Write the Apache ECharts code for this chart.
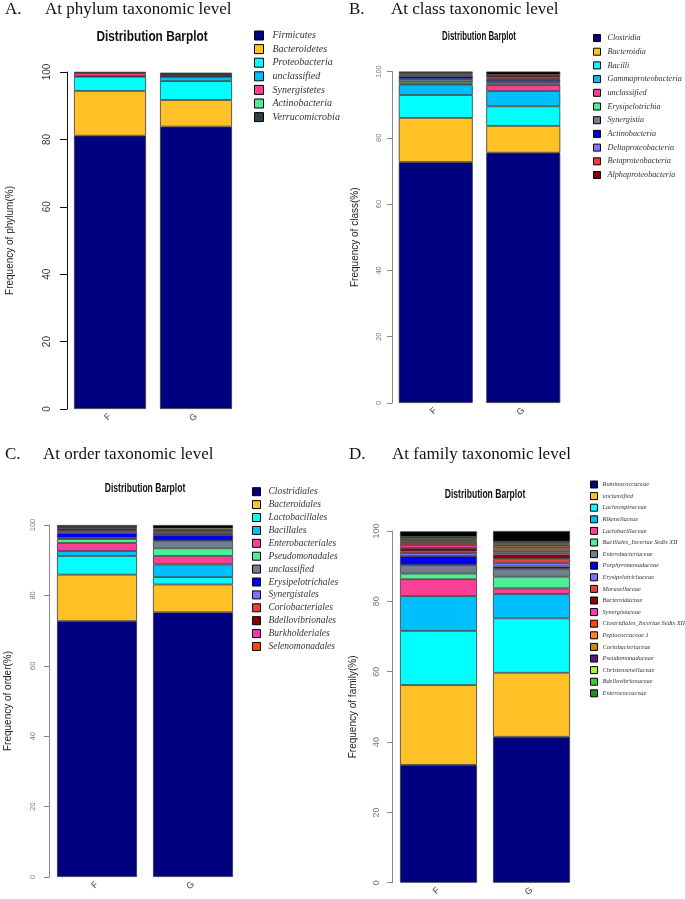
<!DOCTYPE html>
<html>
<head>
<meta charset="utf-8">
<script src="https://cdn.jsdelivr.net/npm/echarts@6/dist/echarts.min.js"></script>
<style>
  html, body { margin: 0; padding: 0; background: #fff; }
  #chart { width: 685px; height: 899px; }
</style>
</head>
<body>
<div id="chart"></div>
<script>
// samples on the x axis
const samples = ['F', 'G']
const yTicks = [0, 20, 40, 60, 80, 100]

// A. phylum level
const phylumNames = ['Firmicutes', 'Bacteroidetes', 'Proteobacteria', 'unclassified', 'Synergistetes', 'Actinobacteria', 'Verrucomicrobia']
const phylumF = [81.1, 13.3, 4.2, 0.2, 0.9, 0.1, 0.2]
const phylumG = [83.8, 7.9, 5.6, 1.3, 0.1, 0.1, 1.0]

// B. class level
const classNames = ['Clostridia', 'Bacteroidia', 'Bacilli', 'Gammaproteobacteria', 'unclassified', 'Erysipelotrichia', 'Synergistia', 'Actinobacteria', 'Deltaproteobacteria', 'Betaproteobacteria', 'Alphaproteobacteria', 'Others']
const classF = [72.7, 13.3, 6.9, 3.1, 0.3, 0.6, 0.8, 0.9, 0.5, 0.3, 0.2, 0.4]
const classG = [75.5, 8.1, 5.9, 4.6, 1.8, 0.5, 0.5, 0.6, 0.3, 0.4, 0.8, 1.0]

// C. order level
const orderNames = ['Clostridiales', 'Bacteroidales', 'Lactobacillales', 'Bacillales', 'Enterobacteriales', 'Pseudomonadales', 'unclassified', 'Erysipelotrichales', 'Synergistales', 'Coriobacteriales', 'Bdellovibrionales', 'Burkholderiales', 'Selenomonadales', 'Others']
const orderF = [72.7, 13.2, 5.3, 1.4, 2.3, 1.1, 0.3, 1.4, 0.6, 0.2, 0.5, 0.2, 0.2, 0.6]
const orderG = [75.2, 7.9, 2.1, 3.6, 2.4, 2.2, 2.1, 1.6, 0.3, 0.4, 0.5, 0.3, 0.4, 1.0]

// D. family level
const familyNames = ['Ruminococcaceae', 'unclassified', 'Lachnospiraceae', 'Rikenellaceae', 'Lactobacillaceae', 'Bacillales_Incertae Sedis XII', 'Enterobacteriaceae', 'Porphyromonadaceae', 'Erysipelotrichaceae', 'Moraxellaceae', 'Bacteroidaceae', 'Synergistaceae', 'Clostridiales_Incertae Sedis XII', 'Peptococcaceae 1', 'Coriobacteriaceae', 'Pseudomonadaceae', 'Christensenellaceae', 'Bdellovibrionaceae', 'Enterococcaceae', 'Others']
const familyF = [33.5, 22.7, 15.4, 9.9, 4.8, 1.6, 2.4, 2.6, 0.8, 0.5, 1.0, 0.8, 0.6, 0.4, 0.3, 0.2, 0.4, 0.2, 0.2, 1.6]
const familyG = [41.5, 18.2, 15.5, 6.9, 1.6, 3.3, 2.2, 0.7, 1.0, 1.2, 1.2, 0.6, 0.6, 0.7, 0.6, 0.3, 0.4, 0.3, 0.2, 3.0]

// shared palette (R style)
const palette = ['#000080', '#FFC125', '#00FFFF', '#00BFFF', '#FF3E96', '#4EEE94', '#708090', '#0000EE', '#8470FF', '#EE3B3B', '#8B0000', '#FF34B3', '#FF4500', '#FF7F24', '#CD8500', '#551A8B', '#B3EE3A', '#32CD32', '#228B22']
const phylumColors = ['#000080', '#FFC125', '#00FFFF', '#00BFFF', '#FF3E96', '#4EEE94', '#2F3F46']

const panels = [
  {
    key: 'A', letter: 'A.', heading: 'At phylum taxonomic level', hx: 5, lx: 45, hy: 10,
    names: phylumNames, f: phylumF, g: phylumG, colors: phylumColors,
    grid: { left: 67, top: 72, width: 172, height: 337 }, barWidth: 72,
    legend: { left: 254, top: 30.5, w: 9, h: 9, gap: 3.6, size: 10, pad: 4 },
    yName: 'Frequency of phylum(%)', nameGap: 52, axisColor: '#111', tick: 7, labelMargin: 15, labelSize: 10,
    db: { x: 152, y: 37, size: 15, sx: 0.79 }
  },
  {
    key: 'B', letter: 'B.', heading: 'At class taxonomic level', hx: 349, lx: 391, hy: 10,
    names: classNames, f: classF, g: classG, colors: palette,
    grid: { left: 392, top: 71.5, width: 175, height: 331.5 }, barWidth: 74,
    legend: { left: 593, top: 34, w: 7, h: 7, gap: 5.7, size: 8.2, pad: 2 },
    yName: 'Frequency of class(%)', nameGap: 32, axisColor: '#888', tick: 5, labelMargin: 9, labelSize: 7.5,
    db: { x: 479, y: 37, size: 12.5, sx: 0.63 }
  },
  {
    key: 'C', letter: 'C.', heading: 'At order taxonomic level', hx: 5, lx: 43, hy: 455,
    names: orderNames, f: orderF, g: orderG, colors: palette,
    grid: { left: 49, top: 525, width: 192, height: 352 }, barWidth: 80,
    legend: { left: 252, top: 486.7, w: 8, h: 8, gap: 2.9, size: 9.5, pad: 3 },
    yName: 'Frequency of order(%)', nameGap: 36, axisColor: '#888', tick: 5, labelMargin: 12, labelSize: 7.5,
    db: { x: 145, y: 488, size: 13, sx: 0.66 }
  },
  {
    key: 'D', letter: 'D.', heading: 'At family taxonomic level', hx: 349, lx: 392, hy: 455,
    names: familyNames, f: familyF, g: familyG, colors: palette,
    grid: { left: 392, top: 531, width: 186, height: 352 }, barWidth: 77,
    legend: { left: 590, top: 480.5, w: 7, h: 7, gap: 3.6, size: 6.4, pad: 0 },
    yName: 'Frequency of family(%)', nameGap: 34, axisColor: '#888', tick: 5, labelMargin: 11, labelSize: 9,
    db: { x: 485, y: 494, size: 13, sx: 0.66 }
  }
]

const serif = '"Liberation Serif", "Times New Roman", serif'
const sans = '"Liberation Sans", Arial, sans-serif'

let grids = [], xAxes = [], yAxes = [], legends = [], series = [], graphics = []

panels.forEach((p, i) => {
  grids.push(Object.assign({ containLabel: false }, p.grid))
  xAxes.push({
    type: 'category', gridIndex: i, data: samples,
    axisLine: { show: false }, axisTick: { show: false },
    axisLabel: { rotate: 45, margin: 6, fontSize: 9, color: '#444', fontFamily: sans }
  })
  yAxes.push({
    type: 'value', gridIndex: i, min: yTicks[0], max: yTicks[yTicks.length - 1], interval: 20,
    axisLine: { show: true, lineStyle: { color: p.axisColor, width: 1 } },
    axisTick: { show: true, length: p.tick, lineStyle: { color: p.axisColor } },
    axisLabel: { rotate: 90, margin: p.labelMargin, fontSize: p.labelSize, color: p.axisColor === '#111' ? '#333' : '#777', fontFamily: sans },
    splitLine: { show: false },
    name: p.yName, nameLocation: 'middle', nameGap: p.nameGap,
    nameTextStyle: { fontSize: 10, color: '#222', fontFamily: sans }
  })
  p.names.forEach((n, j) => {
    series.push({
      name: p.key + '|' + n,
      type: 'bar', stack: p.key, xAxisIndex: i, yAxisIndex: i,
      barWidth: p.barWidth,
      data: [p.f[j], p.g[j]],
      itemStyle: { color: n === 'Others' ? '#000000' : p.colors[j], borderColor: '#3a3a3a', borderWidth: 0.8 },
      emphasis: { disabled: true }
    })
  })
  const L = p.legend
  legends.push({
    orient: 'vertical', left: L.left, top: L.top, padding: 0,
    itemWidth: L.w, itemHeight: L.h, itemGap: L.gap,
    icon: 'rect', selectedMode: false,
    data: p.names.filter(n => n !== 'Others').map(n => p.key + '|' + n),
    formatter: name => name.split('|')[1],
    itemStyle: { borderColor: '#000', borderWidth: 1 },
    textStyle: { fontFamily: serif, fontStyle: 'italic', fontSize: L.size, color: '#333', padding: [0, 0, 0, L.pad] }
  })
  graphics.push(
    { type: 'text', x: p.hx, y: p.hy, style: { text: p.letter, font: '17px ' + serif, fill: '#111', verticalAlign: 'middle' } },
    { type: 'text', x: p.lx, y: p.hy, style: { text: p.heading, font: '17px ' + serif, fill: '#111', verticalAlign: 'middle' } },
    {
      type: 'text', x: p.db.x, y: p.db.y, scaleX: p.db.sx,
      style: { text: 'Distribution Barplot', font: 'bold ' + p.db.size + 'px ' + sans, fill: '#111', align: 'center', verticalAlign: 'middle' }
    }
  )
})

const chart = echarts.init(document.getElementById('chart'))
chart.setOption({
  animation: false,
  backgroundColor: '#fff',
  grid: grids,
  xAxis: xAxes,
  yAxis: yAxes,
  legend: legends,
  series: series,
  graphic: graphics,
  tooltip: { show: false }
})
</script>
</body>
</html>
